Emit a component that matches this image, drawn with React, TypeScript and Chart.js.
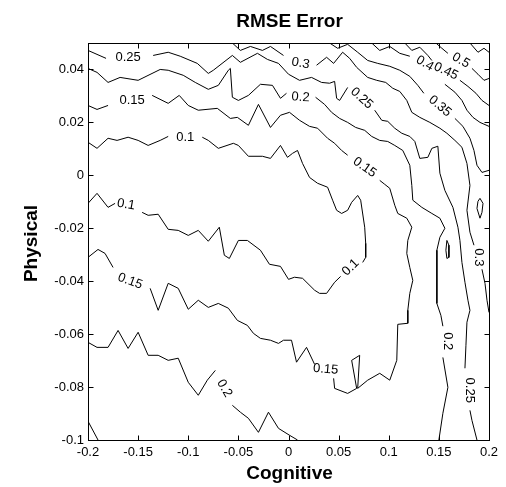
import React, { useEffect, useRef } from "react";
import { Chart, registerables } from "chart.js";

Chart.register(...registerables);

type Pt = [number, number];

// ---- axis ticks ----
const xTickValues = [-0.2, -0.15, -0.1, -0.05, 0, 0.05, 0.1, 0.15, 0.2];
const xTickLabels = ["-0.2", "-0.15", "-0.1", "-0.05", "0", "0.05", "0.1", "0.15", "0.2"];
const yTickValues = [-0.1, -0.08, -0.06, -0.04, -0.02, 0, 0.02, 0.04];
const yTickLabels = ["-0.1", "-0.08", "-0.06", "-0.04", "-0.02", "0", "0.02", "0.04"];

// ---- contour pieces (Cognitive, Physical) ----
const seg025TopA: Pt[] = [[-0.2, 0.0472], [-0.182, 0.0442]];
const seg025TopB: Pt[] = [[-0.135, 0.0453], [-0.12, 0.0465], [-0.108, 0.045], [-0.091, 0.0423], [-0.08, 0.0385], [-0.075, 0.0397], [-0.056, 0.0453], [-0.048, 0.0427], [-0.031, 0.0461], [-0.021, 0.0438], [-0.01, 0.0423], [0, 0.0382], [0.011, 0.0359], [0.023, 0.037], [0.033, 0.0351], [0.041, 0.0348], [0.046, 0.0355], [0.048, 0.0291], [0.051, 0.0283], [0.059, 0.0332]];
const seg025TopC: Pt[] = [[0.086, 0.0246], [0.093, 0.0208], [0.099, 0.0204], [0.106, 0.0178], [0.113, 0.0159], [0.121, 0.0147], [0.126, 0.0128], [0.131, 0.0064], [0.139, 0.0068], [0.143, 0.0102], [0.149, 0.011], [0.151, 0.0008], [0.156, -0.0057], [0.164, -0.0121], [0.169, -0.0196], [0.171, -0.0246], [0.173, -0.0329], [0.176, -0.0404], [0.179, -0.0472], [0.181, -0.051], [0.178, -0.0555], [0.177, -0.0642], [0.176, -0.0729]];
const seg025TopD: Pt[] = [[0.181, -0.0888], [0.183, -0.0926], [0.188, -0.1]];

const seg030A: Pt[] = [[-0.056, 0.05], [-0.048, 0.0472], [-0.038, 0.0487], [-0.026, 0.0472], [-0.018, 0.0487], [-0.005, 0.0453]];
const seg030B: Pt[] = [[0.028, 0.0416], [0.038, 0.0446], [0.045, 0.0423], [0.054, 0.0465], [0.061, 0.0442], [0.068, 0.0408], [0.079, 0.037], [0.088, 0.0359], [0.097, 0.0351], [0.104, 0.0329], [0.111, 0.0317], [0.118, 0.0283], [0.123, 0.0238], [0.131, 0.0219], [0.141, 0.02], [0.151, 0.0178], [0.158, 0.0159], [0.166, 0.0132], [0.173, 0.0106], [0.178, 0.0045], [0.181, -0.0038], [0.178, -0.0132], [0.181, -0.0215], [0.185, -0.0264]];
const seg030C: Pt[] = [[0.193, -0.0355], [0.196, -0.0408], [0.198, -0.0472], [0.2, -0.0518]];

const seg035A: Pt[] = [[0.041, 0.05], [0.049, 0.048], [0.059, 0.0495], [0.069, 0.0465], [0.079, 0.0434], [0.089, 0.0423], [0.101, 0.0412], [0.111, 0.0397], [0.121, 0.0374], [0.129, 0.034], [0.135, 0.031]];
const seg035B: Pt[] = [[0.166, 0.0215], [0.174, 0.0185], [0.181, 0.014], [0.185, 0.0094], [0.188, 0.0038], [0.193, 0.0011], [0.2, 0.0019]];

const seg040A: Pt[] = [[0.083, 0.05], [0.091, 0.0472], [0.101, 0.0487], [0.111, 0.0461], [0.121, 0.045]];
const seg040B: Pt[] = [[0.156, 0.0344], [0.166, 0.0314], [0.173, 0.0283], [0.178, 0.0246], [0.184, 0.0219], [0.191, 0.02], [0.2, 0.0185]];

const seg045A: Pt[] = [[0.116, 0.05], [0.123, 0.0472], [0.131, 0.0484], [0.139, 0.0453], [0.143, 0.0434]];
const seg045B: Pt[] = [[0.171, 0.0359], [0.179, 0.0336], [0.187, 0.031], [0.193, 0.0283], [0.2, 0.0264]];

const seg050A: Pt[] = [[0.147, 0.05], [0.153, 0.048], [0.159, 0.0461]];
const seg050B: Pt[] = [[0.183, 0.0404], [0.189, 0.0382], [0.195, 0.0359], [0.2, 0.0366]];
const seg055: Pt[] = [[0.181, 0.05], [0.189, 0.0465], [0.195, 0.048], [0.2, 0.0465]];

const seg020UpA: Pt[] = [[-0.2, 0.0404], [-0.191, 0.0389], [-0.18, 0.0351], [-0.168, 0.037], [-0.15, 0.0359], [-0.128, 0.04], [-0.12, 0.0397], [-0.105, 0.0378], [-0.093, 0.0351], [-0.08, 0.0325], [-0.07, 0.034], [-0.06, 0.0397], [-0.058, 0.0404], [-0.056, 0.0295], [-0.05, 0.0283], [-0.04, 0.0302], [-0.028, 0.0344], [-0.016, 0.034], [-0.008, 0.0291], [-0.002, 0.031]];
const seg020UpB: Pt[] = [[0.027, 0.0295], [0.036, 0.0268], [0.043, 0.0238], [0.051, 0.0215], [0.059, 0.02], [0.067, 0.0181], [0.076, 0.017], [0.083, 0.0147], [0.091, 0.0132], [0.099, 0.0128], [0.106, 0.0113], [0.114, 0.0094], [0.121, 0.0038], [0.123, -0.0038], [0.124, -0.0094], [0.133, -0.0121], [0.143, -0.0144], [0.151, -0.0162], [0.156, -0.02], [0.151, -0.0234], [0.148, -0.0283], [0.148, -0.0359], [0.148, -0.0484], [0.152, -0.0529], [0.154, -0.057]];
const seg020UpC: Pt[] = [[0.154, -0.0688], [0.159, -0.0801], [0.154, -0.0899], [0.15, -0.1]];

const seg015A: Pt[] = [[-0.2, 0.0264], [-0.191, 0.0249], [-0.18, 0.0264]];
const seg015B: Pt[] = [[-0.136, 0.0302], [-0.12, 0.0272], [-0.109, 0.0302], [-0.1, 0.0264], [-0.09, 0.0246], [-0.071, 0.0253], [-0.058, 0.0215], [-0.051, 0.0219], [-0.04, 0.0189], [-0.03, 0.0268], [-0.018, 0.0181], [-0.008, 0.0227], [0.001, 0.0238], [0.011, 0.0208], [0.021, 0.0185], [0.029, 0.0178], [0.039, 0.014], [0.046, 0.0121], [0.053, 0.0094], [0.059, 0.0076]];
const seg015C: Pt[] = [[0.091, -0.0019], [0.096, -0.0034], [0.101, -0.0049], [0.106, -0.0113], [0.109, -0.0144], [0.118, -0.0162], [0.123, -0.0196], [0.119, -0.0246], [0.118, -0.0295], [0.121, -0.0348], [0.124, -0.0397], [0.121, -0.0446], [0.119, -0.051], [0.119, -0.0559], [0.109, -0.0563], [0.108, -0.0699], [0.101, -0.0774], [0.091, -0.0748], [0.079, -0.0774], [0.069, -0.0805], [0.071, -0.068], [0.063, -0.0699], [0.068, -0.0805], [0.059, -0.0824], [0.046, -0.0805], [0.045, -0.0767]];
const seg015D: Pt[] = [[0.026, -0.0714], [0.018, -0.065], [0.008, -0.0706], [0.003, -0.0623], [-0.005, -0.0623], [-0.01, -0.0635], [-0.018, -0.0623], [-0.028, -0.0616], [-0.035, -0.0597], [-0.041, -0.0567], [-0.051, -0.0548], [-0.06, -0.0502], [-0.07, -0.0484], [-0.08, -0.0499], [-0.09, -0.0472], [-0.1, -0.0506], [-0.11, -0.0427], [-0.12, -0.0408], [-0.13, -0.051], [-0.138, -0.0427]];
const seg015E: Pt[] = [[-0.175, -0.0348], [-0.183, -0.0295], [-0.19, -0.028], [-0.2, -0.031]];

const seg010A: Pt[] = [[-0.2, 0.0125], [-0.191, 0.0102], [-0.18, 0.014], [-0.171, 0.0132], [-0.16, 0.0144], [-0.15, 0.0132], [-0.14, 0.0113], [-0.128, 0.0132], [-0.12, 0.0147]];
const seg010B: Pt[] = [[-0.086, 0.0144], [-0.08, 0.0132], [-0.07, 0.0102], [-0.055, 0.0121], [-0.05, 0.0113], [-0.04, 0.0072], [-0.026, 0.0072], [-0.018, 0.0064], [-0.008, 0.0113], [-0.001, 0.0068], [0.004, 0.0083], [0.009, 0.0094], [0.014, 0.0045], [0.021, -0.0008], [0.029, -0.003], [0.039, -0.0045], [0.044, -0.0094], [0.048, -0.0132], [0.053, -0.0144], [0.059, -0.0132], [0.063, -0.0102], [0.069, -0.0076], [0.072, -0.0094], [0.076, -0.0196], [0.077, -0.0257], [0.077, -0.031], [0.074, -0.0329]];
const seg010C: Pt[] = [[0.052, -0.0382], [0.046, -0.0404], [0.038, -0.0446], [0.031, -0.0446], [0.026, -0.0434], [0.014, -0.0389], [0.006, -0.0385], [0, -0.0393], [-0.008, -0.0344], [-0.019, -0.0336], [-0.028, -0.0283], [-0.041, -0.0246], [-0.05, -0.0246], [-0.059, -0.0314], [-0.064, -0.0302], [-0.069, -0.0196], [-0.08, -0.0249], [-0.09, -0.0208], [-0.1, -0.0227], [-0.11, -0.0208], [-0.12, -0.0204], [-0.13, -0.0147], [-0.14, -0.0151], [-0.146, -0.014]];
const seg010D: Pt[] = [[-0.173, -0.0106], [-0.18, -0.0121], [-0.191, -0.0068], [-0.2, -0.0106]];

const seg020LowA: Pt[] = [[-0.2, -0.0631], [-0.191, -0.065], [-0.18, -0.065], [-0.17, -0.0586], [-0.16, -0.0654], [-0.15, -0.0593], [-0.14, -0.068], [-0.13, -0.068], [-0.12, -0.0699], [-0.11, -0.0691], [-0.1, -0.0782], [-0.09, -0.0831], [-0.081, -0.0774], [-0.073, -0.0737]];
const seg020LowB: Pt[] = [[-0.056, -0.0869], [-0.048, -0.0895], [-0.04, -0.0918], [-0.03, -0.0971], [-0.02, -0.0895], [-0.01, -0.0956], [0.001, -0.0982], [0.009, -0.1]];
const seg025Low: Pt[] = [[-0.2, -0.0929], [-0.19, -0.1]];

const loop020: Pt[] = [[0.158, -0.0246], [0.16, -0.0264], [0.16, -0.031], [0.158, -0.0314], [0.157, -0.0283], [0.158, -0.0246]];
const loop035: Pt[] = [[0.191, -0.0087], [0.194, -0.0106], [0.193, -0.014], [0.191, -0.0162], [0.188, -0.0125], [0.189, -0.0098], [0.191, -0.0087]];

const contourPieces: Pt[][] = [
  seg025TopA, seg025TopB, seg025TopC, seg025TopD,
  seg030A, seg030B, seg030C,
  seg035A, seg035B,
  seg040A, seg040B,
  seg045A, seg045B,
  seg050A, seg050B, seg055,
  seg020UpA, seg020UpB, seg020UpC,
  seg015A, seg015B, seg015C, seg015D, seg015E,
  seg010A, seg010B, seg010C, seg010D,
  seg020LowA, seg020LowB, seg025Low,
  loop020, loop035,
];

// ---- contour labels ----
const labelText = ["0.25", "0.15", "0.1", "0.3", "0.2", "0.25", "0.35", "0.4", "0.45", "0.5", "0.15", "0.1", "0.15", "0.1", "0.3", "0.2", "0.25", "0.15", "0.2"];
const labelX = [-0.16, -0.156, -0.103, 0.012, 0.012, 0.073, 0.151, 0.136, 0.157, 0.172, 0.076, -0.162, -0.158, 0.062, 0.19, 0.159, 0.181, 0.037, -0.064];
const labelY = [0.0446, 0.0283, 0.0144, 0.0423, 0.0295, 0.0291, 0.0261, 0.0423, 0.0393, 0.0434, 0.003, -0.011, -0.04, -0.0348, -0.031, -0.0627, -0.0812, -0.0733, -0.0805];
const labelAngle = [0, 0, 0, 10, 3, 42, 40, 30, 25, 30, 35, 10, 20, -45, 90, 90, 90, 5, 60];

const titleText = "RMSE Error";
const xTitle = "Cognitive";
const yTitle = "Physical";

const FONT = '"Liberation Sans", Arial, Helvetica, sans-serif';

export default function App() {
  const ref = useRef<HTMLCanvasElement>(null);

  useEffect(() => {
    const canvas = ref.current;
    if (!canvas) return;

    const decor = {
      id: "decor",
      afterDatasetsDraw(chart: any) {
        const { ctx, chartArea: ca, scales } = chart;
        const xs = scales.x;
        const ys = scales.y;
        ctx.save();
        // contour labels
        ctx.fillStyle = "#000";
        ctx.font = `13px ${FONT}`;
        ctx.textAlign = "center";
        ctx.textBaseline = "middle";
        labelText.forEach((t, i) => {
          const px = xs.getPixelForValue(labelX[i]);
          const py = ys.getPixelForValue(labelY[i]);
          ctx.save();
          ctx.translate(px, py);
          ctx.rotate((labelAngle[i] * Math.PI) / 180);
          ctx.fillText(t, 0, 0);
          ctx.restore();
        });
        // box
        ctx.strokeStyle = "#000";
        ctx.lineWidth = 1;
        ctx.strokeRect(ca.left + 0.5, ca.top + 0.5, ca.right - ca.left, ca.bottom - ca.top);
        // inward ticks
        const L = 5;
        ctx.beginPath();
        xTickValues.forEach((v) => {
          const px = Math.round(xs.getPixelForValue(v)) + 0.5;
          ctx.moveTo(px, ca.bottom + 0.5);
          ctx.lineTo(px, ca.bottom + 0.5 - L);
          ctx.moveTo(px, ca.top + 0.5);
          ctx.lineTo(px, ca.top + 0.5 + L);
        });
        yTickValues.forEach((v) => {
          const py = Math.round(ys.getPixelForValue(v)) + 0.5;
          ctx.moveTo(ca.left + 0.5, py);
          ctx.lineTo(ca.left + 0.5 + L, py);
          ctx.moveTo(ca.right + 0.5, py);
          ctx.lineTo(ca.right + 0.5 - L, py);
        });
        ctx.stroke();
        ctx.restore();
      },
      afterDraw(chart: any) {
        const { ctx, chartArea: ca } = chart;
        ctx.save();
        ctx.fillStyle = "#000";
        ctx.textAlign = "center";
        ctx.textBaseline = "alphabetic";
        ctx.font = `bold 19px ${FONT}`;
        const cx = (ca.left + ca.right) / 2;
        ctx.fillText(titleText, cx + 1, 27);
        ctx.fillText(xTitle, cx + 1, 479);
        ctx.save();
        ctx.translate(37, (ca.top + ca.bottom) / 2 + 2);
        ctx.rotate(-Math.PI / 2);
        ctx.fillText(yTitle, 0, 0);
        ctx.restore();
        ctx.restore();
      },
    };

    const datasets = contourPieces.map((seg) => ({
      data: seg.map(([x, y]) => ({ x, y })),
      showLine: true,
      borderColor: "#000",
      borderWidth: 1,
      pointRadius: 0,
      pointHoverRadius: 0,
      fill: false,
      tension: 0,
    }));

    const chart = new Chart(canvas, {
      type: "scatter",
      data: { datasets },
      options: {
        animation: false,
        responsive: true,
        maintainAspectRatio: false,
        events: [],
        layout: { padding: { top: 43, right: 17, left: 0, bottom: 0 } },
        plugins: {
          legend: { display: false },
          tooltip: { enabled: false },
          title: { display: false },
        },
        scales: {
          x: {
            type: "linear",
            min: -0.2,
            max: 0.2,
            grid: { display: false, drawTicks: false },
            border: { display: false },
            afterBuildTicks: (s: any) => {
              s.ticks = xTickValues.map((v) => ({ value: v }));
            },
            afterFit: (s: any) => {
              s.height = 47;
              s.paddingLeft = 0;
              s.paddingRight = 0;
            },
            ticks: {
              padding: 5,
              autoSkip: false,
              maxRotation: 0,
              minRotation: 0,
              color: "#000",
              font: { family: FONT, size: 13 },
              callback: (_v: any, i: number) => xTickLabels[i],
            },
          },
          y: {
            type: "linear",
            min: -0.1,
            max: 0.05,
            grid: { display: false, drawTicks: false },
            border: { display: false },
            afterBuildTicks: (s: any) => {
              s.ticks = yTickValues.map((v) => ({ value: v }));
            },
            afterFit: (s: any) => {
              s.width = 88;
              s.paddingTop = 0;
              s.paddingBottom = 0;
            },
            ticks: {
              padding: 4,
              autoSkip: false,
              color: "#000",
              font: { family: FONT, size: 13 },
              callback: (_v: any, i: number) => yTickLabels[i],
            },
          },
        },
      } as any,
      plugins: [decor],
    });

    return () => chart.destroy();
  }, []);

  return (
    <div style={{ position: "fixed", left: 0, top: 0, width: 506, height: 487, background: "#fff" }}>
      <canvas ref={ref} />
    </div>
  );
}
